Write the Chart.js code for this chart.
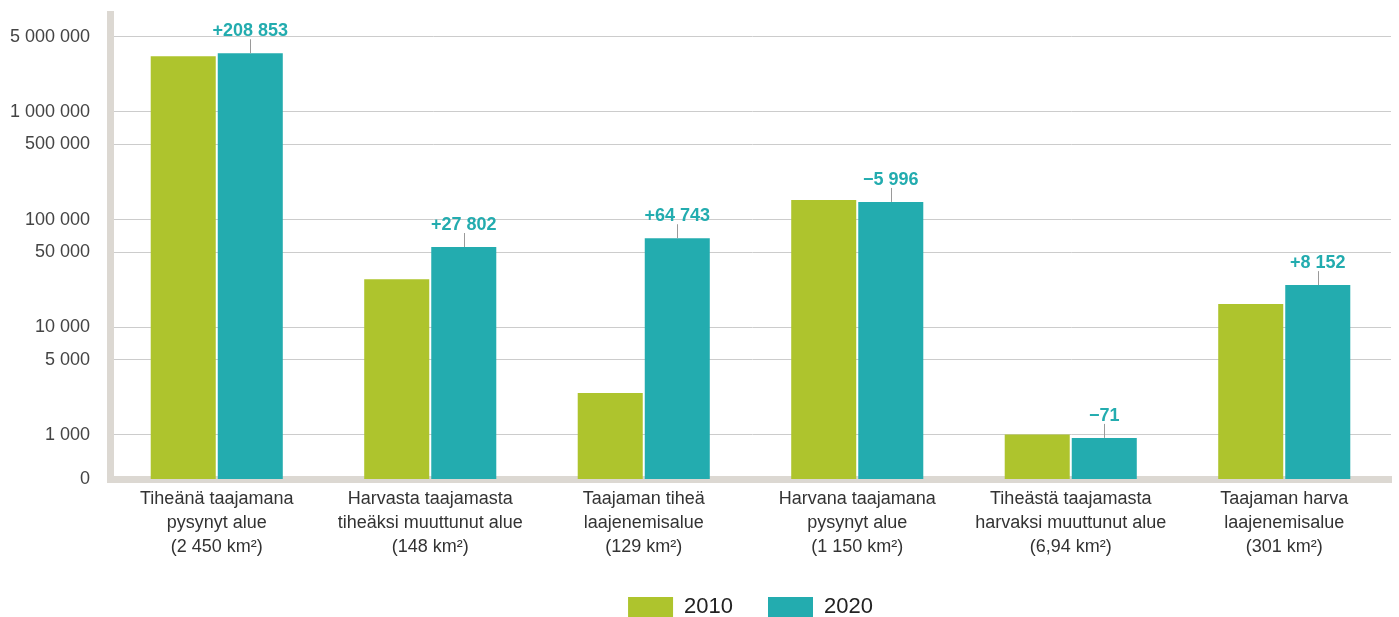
<!DOCTYPE html>
<html>
<head>
<meta charset="utf-8">
<script src="https://cdn.jsdelivr.net/npm/chart.js@4"></script>
<style>
  html, body { margin: 0; padding: 0; background: #fff; overflow: hidden; }
  #wrap { width: 1399px; height: 628px; }
</style>
</head>
<body>
<div id="wrap"><canvas id="chart" width="1399" height="628"></canvas></div>
<script>
// categories
var categories = [
    ["Tiheänä taajamana", "pysynyt alue", "(2 450 km²)"],
    ["Harvasta taajamasta", "tiheäksi muuttunut alue", "(148 km²)"],
    ["Taajaman tiheä", "laajenemisalue", "(129 km²)"],
    ["Harvana taajamana", "pysynyt alue", "(1 150 km²)"],
    ["Tiheästä taajamasta", "harvaksi muuttunut alue", "(6,94 km²)"],
    ["Taajaman harva", "laajenemisalue", "(301 km²)"]
];
// series
var values2010 = [3300000, 27900, 2450, 152000, 1010, 16500];
var values2020 = [3508853, 55702, 67193, 146004, 939, 24652];
var changeLabels = ["+208 853", "+27 802", "+64 743", "\u22125 996", "\u221271", "+8 152"];
// y ticks
var yTicks = [390, 1000, 5000, 10000, 50000, 100000, 500000, 1000000, 5000000];
var yMin = 390;
var yMax = 8130000;

var green = "#aec42d";
var teal = "#23acaf";
var font = "'Liberation Sans', Arial, sans-serif";

function spaced(v) {
    return String(Math.round(v)).replace(/\B(?=(\d{3})+(?!\d))/g, " ");
}

// change labels above the 2020 bars
var changePlugin = {
    id: "changeLabels",
    afterDatasetsDraw: function(chart) {
        var ctx = chart.ctx;
        var meta = chart.getDatasetMeta(1);
        ctx.save();
        meta.data.forEach(function(bar, i) {
            var x = bar.x;
            var top = bar.y;
            ctx.strokeStyle = "#9a9a9a";
            ctx.lineWidth = 1;
            ctx.beginPath();
            ctx.moveTo(Math.round(x) + 0.5, top);
            ctx.lineTo(Math.round(x) + 0.5, top - 14);
            ctx.stroke();
            ctx.fillStyle = teal;
            ctx.font = "bold 18px " + font;
            ctx.textAlign = "center";
            ctx.textBaseline = "alphabetic";
            ctx.fillText(changeLabels[i], x, top - 17);
        });
        ctx.restore();
    }
};

// center the legend under the plot area
var legendShift = {
    id: "legendShift",
    afterLayout: function(chart) {
        if (chart.legend) {
            chart.legend.left = chart.chartArea.left;
            chart.legend.right = chart.chartArea.right;
        }
    }
};

new Chart("chart", {
    type: "bar",
    data: {
        labels: categories,
        datasets: [
            {
                label: "2010",
                data: values2010,
                backgroundColor: green,
                borderWidth: 0,
                barPercentage: 0.97,
                categoryPercentage: 0.628
            },
            {
                label: "2020",
                data: values2020,
                backgroundColor: teal,
                borderWidth: 0,
                barPercentage: 0.97,
                categoryPercentage: 0.628
            }
        ]
    },
    options: {
        responsive: false,
        animation: false,
        layout: {
            padding: { top: 14, right: 8, left: 0, bottom: 0 }
        },
        scales: {
            x: {
                grid: { display: false, drawTicks: false },
                border: { display: true, color: "#dcd8d2", width: 7 },
                ticks: {
                    autoSkip: false,
                    maxRotation: 0,
                    padding: 8,
                    color: "#333",
                    font: { family: font, size: 18, lineHeight: 1.333 }
                },
                afterFit: function(scale) {
                    scale.height = 82;
                    scale.paddingLeft = 0;
                    scale.paddingRight = 0;
                }
            },
            y: {
                type: "logarithmic",
                min: yMin,
                max: yMax,
                afterBuildTicks: function(scale) {
                    scale.ticks = yTicks.map(function(v) { return { value: v }; });
                },
                afterFit: function(scale) {
                    scale.width = 110;
                    scale.paddingTop = 0;
                    scale.paddingBottom = 0;
                },
                grid: {
                    drawTicks: false,
                    color: function(c) {
                        return c.tick && c.tick.value === yMin ? "rgba(0,0,0,0)" : "#cccccc";
                    },
                    lineWidth: 1
                },
                border: { display: true, color: "#dcd8d2", width: 7 },
                ticks: {
                    padding: 20,
                    color: "#444",
                    font: { family: font, size: 18 },
                    callback: function(v) {
                        return v === yMin ? "0" : spaced(v);
                    }
                }
            }
        },
        plugins: {
            legend: {
                display: true,
                position: "bottom",
                labels: {
                    boxWidth: 45,
                    boxHeight: 20,
                    padding: 35,
                    color: "#222",
                    font: { family: font, size: 22 }
                }
            },
            tooltip: { enabled: false }
        }
    },
    plugins: [changePlugin, legendShift]
});
</script>
</body>
</html>
